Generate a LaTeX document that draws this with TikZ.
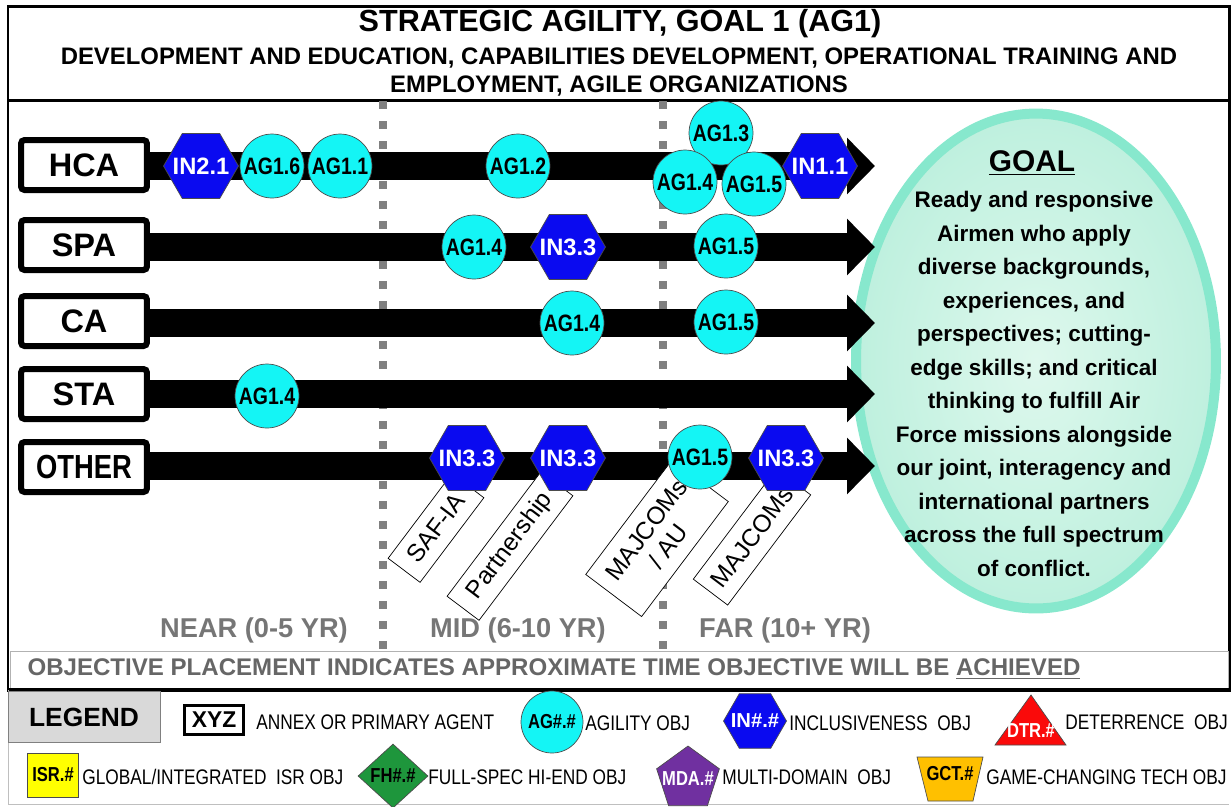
\documentclass[tikz,border=0pt]{standalone}
\usepackage{fontspec}
\setmainfont{Liberation Sans}
\newfontfamily\narrowfont[FakeStretch=0.82]{Liberation Sans}
\usepackage{xcolor}
\usetikzlibrary{arrows.meta,shapes.geometric,positioning}

\definecolor{agcyan}{RGB}{20,245,245}
\definecolor{inblue}{RGB}{10,10,240}
\definecolor{goalfill}{RGB}{222,248,237}
\definecolor{goaledge}{RGB}{190,240,222}
\definecolor{goalrim}{RGB}{135,232,205}
\definecolor{eragray}{RGB}{118,118,118}
\definecolor{keygray}{RGB}{217,217,217}
\definecolor{dtrred}{RGB}{250,10,10}
\definecolor{isryellow}{RGB}{255,255,0}
\definecolor{fhgreen}{RGB}{30,150,60}
\definecolor{mdapurple}{RGB}{112,48,160}
\definecolor{gctorange}{RGB}{255,192,0}

% shape labels that must not widen their shape
\newcommand{\objname}[1]{\makebox[0pt]{#1}}

\begin{document}
\begin{tikzpicture}[x=0.02cm,y=-0.02cm,
	agent/.style={draw,line width=0.12cm,rounded corners=2pt,fill=white,minimum width=2.52cm,minimum height=1cm,inner sep=0pt,font=\fontsize{18.5}{20}\selectfont\bfseries},
	lane/.style={line width=0.56cm,-{Triangle[length=0.56cm,width=1.1cm]}},
	agobj/.style={circle,draw=black!70,fill=agcyan,minimum size=1.28cm,inner sep=0pt,font=\narrowfont\fontsize{13.5}{15}\selectfont\bfseries},
	inobj/.style={regular polygon,regular polygon sides=6,draw=black!70,fill=inblue,text=white,minimum size=1.5cm,inner sep=0pt,font=\fontsize{13.5}{15}\selectfont\bfseries},
	callout/.style={draw,fill=white,rotate=53,inner sep=0pt,align=center,font=\fontsize{14}{15.5}\selectfont},
	divider/.style={draw=gray,line width=0.16cm,dash pattern=on 0.16cm off 0.24cm},
	era/.style={text=eragray,font=\fontsize{15.5}{17}\selectfont\bfseries},
	keytext/.style={anchor=west,inner sep=0pt,font=\narrowfont\fontsize{12}{14}\selectfont},
	keyshape/.style={draw=black!70,inner sep=0pt,font=\narrowfont\fontsize{11.5}{13}\selectfont\bfseries}]
		\useasboundingbox (0,0) rectangle (1231,806);
		% frame and title
		\draw[line width=0.06cm] (8,6) rectangle (1229,690);
		\draw[line width=0.06cm] (8,100) -- (1229,100);
		\node (title) at (620,24) {\fontsize{17.4}{19}\selectfont\bfseries STRATEGIC AGILITY, GOAL 1 (AG1)};
		\node[align=center,font=\fontsize{13.6}{16}\selectfont\bfseries] (subtitle) at (619,72) {DEVELOPMENT AND EDUCATION, CAPABILITIES DEVELOPMENT, OPERATIONAL TRAINING AND\\EMPLOYMENT, AGILE ORGANIZATIONS};
		% time frames
		\draw[divider] (383,101) -- (383,650);
		\draw[divider] (663,101) -- (663,650);
		\node[era] (near) at (254,630) {NEAR (0-5 YR)};
		\node[era] (mid) at (518,630) {MID (6-10 YR)};
		\node[era] (far) at (785,630) {FAR (10+ YR)};
		% goal
		\node[ellipse,draw=goalrim,line width=0.2cm,inner color=goalfill,outer color=goaledge,minimum width=7.2cm,minimum height=9.9cm] (goal) at (1036,361) {};
		\node[font=\fontsize{17}{19}\selectfont\bfseries] (goaltitle) at (1032,163) {\underline{GOAL}};
		\node[align=center,font=\fontsize{12.8}{19.05}\selectfont\bfseries] (goaltext) at (1034,384) {Ready and responsive\\Airmen who apply\\diverse backgrounds,\\experiences, and\\perspectives; cutting-\\edge skills; and critical\\thinking to fulfill Air\\Force missions alongside\\our joint, interagency and\\international partners\\across the full spectrum\\of conflict.};
		% lanes
		\node[agent] (hca) at (84,165) {HCA};
		\node[agent] (spa) at (84,245) {SPA};
		\node[agent] (ca) at (84,321) {CA};
		\node[agent] (sta) at (84,394) {STA};
		\node[agent,font=\narrowfont\fontsize{19}{20}\selectfont\bfseries] (other) at (84,467) {OTHER};
		\coordinate (hcatip) at (875,166);
		\coordinate (spatip) at (875,247);
		\coordinate (catip) at (875,323);
		\coordinate (statip) at (875,394);
		\coordinate (othertip) at (875,466);
		\draw[lane] (hca.east |- hcatip) -- (hcatip);
		\draw[lane] (spa.east |- spatip) -- (spatip);
		\draw[lane] (ca.east |- catip) -- (catip);
		\draw[lane] (sta.east |- statip) -- (statip);
		\draw[lane] (other.east |- othertip) -- (othertip);
		% callouts
		\node[callout,minimum width=2.12cm,minimum height=0.8cm] (safia) at (436,528) {SAF-IA};
		\node[callout,minimum width=3.12cm,minimum height=0.8cm] (partner) at (510,546) {Partnership};
		\node[callout,minimum width=2.88cm,minimum height=1.4cm] (majau) at (657,538) {MAJCOMs\\/ AU};
		\node[callout,minimum width=2.76cm,minimum height=0.86cm] (majfar) at (752,537) {MAJCOMs};
		% objectives
		\node[inobj] (hcain21) at (201,166) {\objname{IN2.1}};
		\node[agobj] (hcaag16) at (272,166) {AG1.6};
		\node[agobj] (hcaag11) at (340,166) {AG1.1};
		\node[agobj] (hcaag12) at (518,166) {AG1.2};
		\node[agobj] (hcaag13) at (721,133) {AG1.3};
		\node[agobj] (hcaag14) at (685,182) {AG1.4};
		\node[agobj] (hcaag15) at (754,184) {AG1.5};
		\node[inobj] (hcain11) at (820,166) {\objname{IN1.1}};
		\node[agobj] (spaag14) at (474,247) {AG1.4};
		\node[inobj] (spain33) at (568,247) {\objname{IN3.3}};
		\node[agobj] (spaag15) at (726,246) {AG1.5};
		\node[agobj] (caag14) at (572,323) {AG1.4};
		\node[agobj] (caag15) at (726,322) {AG1.5};
		\node[agobj] (staag14) at (267,396) {AG1.4};
		\node[inobj] (otherin33a) at (467,458) {\objname{IN3.3}};
		\node[inobj] (otherin33b) at (568,458) {\objname{IN3.3}};
		\node[agobj] (otherag15) at (700,457) {AG1.5};
		\node[inobj] (otherin33c) at (786,458) {\objname{IN3.3}};
		% placement note
		\draw[gray!60] (10,651) rectangle (1228,688);
		\node[text=black!60,font=\fontsize{13.7}{15}\selectfont\bfseries] (note) at (554,669) {OBJECTIVE PLACEMENT INDICATES APPROXIMATE TIME OBJECTIVE WILL BE \underline{ACHIEVED}};
		\draw[line width=0.08cm] (8,690) -- (1229,690);
		% legend
		\draw[gray!50] (8,690) -- (8,804) -- (1229,804);
		\node[draw=gray,fill=keygray,minimum width=3.04cm,minimum height=1.02cm,font=\fontsize{15}{17}\selectfont\bfseries] (legend) at (84,717) {LEGEND};
		\node[draw,line width=0.06cm,minimum width=1.18cm,minimum height=0.58cm,inner sep=0pt,font=\fontsize{13}{15}\selectfont\bfseries] (xyz) at (214,720) {XYZ};
		\node[keytext] (annex) at (256,722) {ANNEX OR PRIMARY AGENT};
		\node[keyshape,circle,fill=agcyan,minimum size=1.24cm] (agkey) at (552,722) {AG\#.\#};
		\node[keytext] (agility) at (585,723) {AGILITY OBJ};
		\node[keyshape,regular polygon,regular polygon sides=6,fill=inblue,text=white,minimum size=1.26cm,font=\fontsize{11.5}{13}\selectfont\bfseries] (inkey) at (755,721) {\objname{IN\#.\#}};
		\node[keytext] (inclusive) at (789,723) {INCLUSIVENESS~ OBJ};
		\filldraw[draw=black!70,fill=dtrred] (995,745) -- (1031,695) -- (1066,745) -- cycle;
		\node[text=white,inner sep=0pt,font=\narrowfont\fontsize{11.5}{13}\selectfont\bfseries] (dtrkey) at (1031,731) {DTR.\#};
		\node[keytext] (deterrence) at (1065,722) {DETERRENCE~ OBJ};
		\node[keyshape,fill=isryellow,minimum width=1.02cm,minimum height=0.88cm] (isrkey) at (53,775) {ISR.\#};
		\node[keytext] (isr) at (82,777) {GLOBAL/INTEGRATED~ ISR OBJ};
		\node[keyshape,diamond,fill=fhgreen,minimum width=1.4cm,minimum height=1.28cm] (fhkey) at (393,776) {\objname{FH\#.\#}};
		\node[keytext] (fullspec) at (428,777) {FULL-SPEC HI-END OBJ};
		\node[keyshape,regular polygon,regular polygon sides=5,fill=mdapurple,text=white,minimum size=1.32cm] (mdakey) at (688,779) {\objname{MDA.\#}};
		\node[keytext] (multidomain) at (722,777) {MULTI-DOMAIN~ OBJ};
		\filldraw[draw=black!70,fill=gctorange] (917,757) -- (983,757) -- (973,801) -- (928,801) -- cycle;
		\node[inner sep=0pt,font=\narrowfont\fontsize{11.5}{13}\selectfont\bfseries] (gctkey) at (950,774) {GCT.\#};
		\node[keytext] (gamechanging) at (986,777) {GAME-CHANGING TECH OBJ};
		\end{tikzpicture}
\end{document}
